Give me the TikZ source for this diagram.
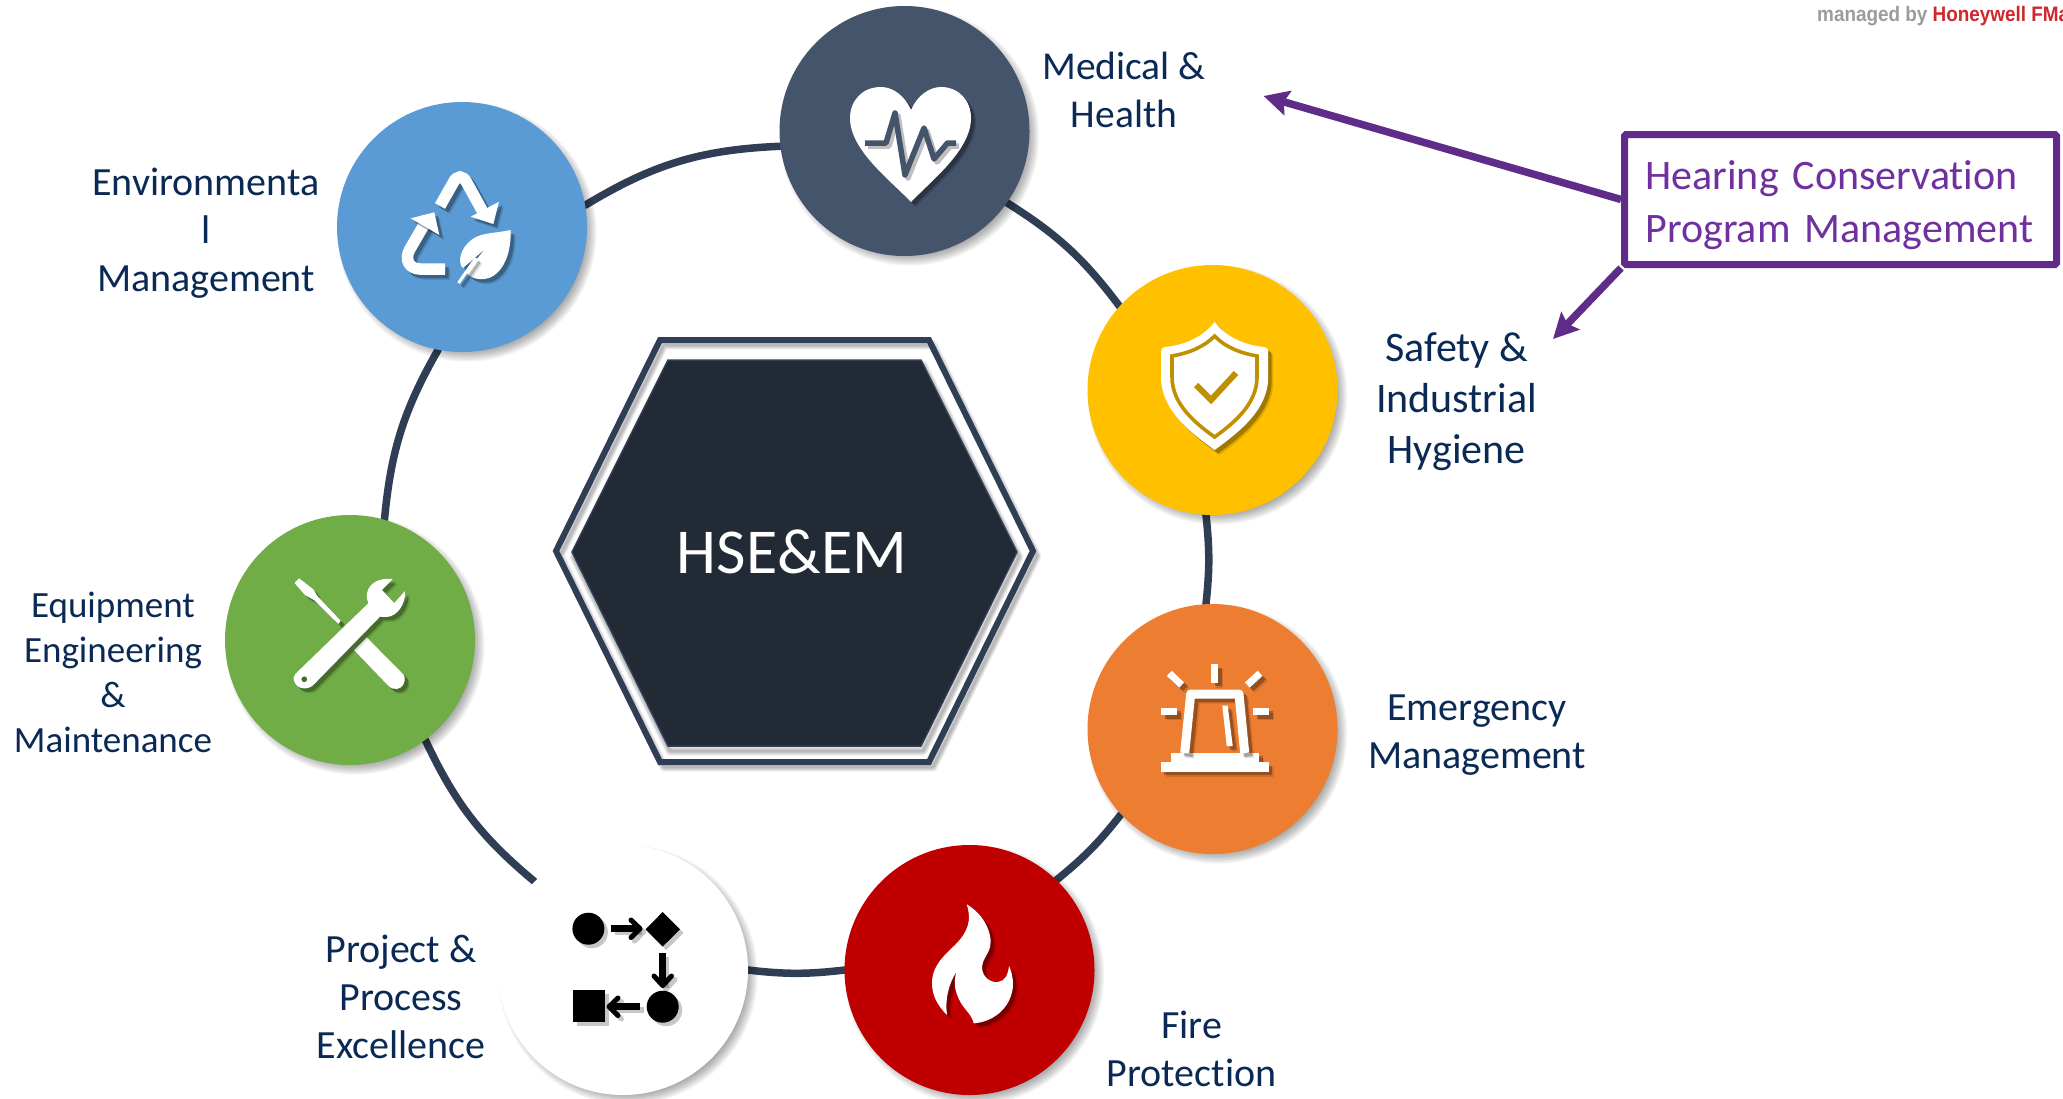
\documentclass[tikz,border=0pt]{standalone}
\usepackage{fontspec}
\setmainfont[Ligatures=NoCommon]{Carlito}
\newfontfamily\hwfont{Liberation Sans}
\usetikzlibrary{arrows.meta,calc}
\definecolor{ringc}{HTML}{2F3E55}
\definecolor{hexfill}{HTML}{222A35}
\definecolor{navy}{HTML}{0A2A55}
\definecolor{purpl}{HTML}{5F2C8A}
\definecolor{purtxt}{HTML}{7030A0}
\definecolor{cmed}{HTML}{44546A}
\definecolor{csaf}{HTML}{FFC000}
\definecolor{ceme}{HTML}{ED7D31}
\definecolor{cfir}{HTML}{C00000}
\definecolor{cequ}{HTML}{70AD47}
\definecolor{cenv}{HTML}{5B9BD5}
\definecolor{cgold}{HTML}{BF9000}
\definecolor{hwred}{HTML}{D0262D}
\definecolor{hwgray}{HTML}{9A9C9F}
\pgfdeclarelayer{bg}
\pgfsetlayers{bg,main}
\tikzset{
  hub/.style={circle,minimum size=250pt,inner sep=0pt,outer sep=0pt},
  ringline/.style={draw=ringc,line width=7.5pt,line cap=round},
  lbl/.style={text=navy,align=center,inner sep=0pt,anchor=base},
  parrow/.style={draw=purpl,line width=7.5pt,-{Stealth[length=25pt,width=25pt,inset=4pt]}},
}
% soft drop shadow of a circle of radius 125 (centre in px, y downwards)
\newcommand\softc[2]{%
  \foreach \k in {0,1,2,3,4,5,6,7}{%
    \fill[black,opacity=.05] ({#1+5},{-(#2)-5}) circle[radius={129.5-1.6*\k}];}}
\newcommand\softhex[1]{%
  \foreach \k in {0,1,2,3,4,5}{%
    \draw[black,opacity=.05,line width={9-1.4*\k},line join=round] #1;}}
\newcommand\iconfill[1]{%
  \fill[black,opacity=.28,shift={(3.5,3.5)},even odd rule] #1;
  \fill[black,opacity=.12,shift={(5,5)},even odd rule] #1;
  \fill[white,even odd rule] #1;}
\newcommand\iconline[2]{%
  \draw[black,opacity=.28,shift={(3.5,3.5)},#1] #2;
  \draw[black,opacity=.12,shift={(5,5)},#1] #2;
  \draw[white,#1] #2;}
\newcommand\procline[2]{%
  \draw[black,opacity=.22,shift={(3.5,3.5)},#1] #2;
  \draw[black,#1] #2;}
\newcommand\procfill[1]{%
  \fill[black,opacity=.22,shift={(3.5,3.5)}] #1;
  \fill[black] #1;}
\newcommand\noteline[1]{\raisebox{-16pt}[0pt][0pt]{#1}}
\begin{document}
\begin{tikzpicture}[x=1pt,y=1pt]
\useasboundingbox (0,0) rectangle (2063,-1098);
\begin{pgfonlayer}{bg}
\fill[white] (0,0) rectangle (2063,-1098);
\end{pgfonlayer}

% ---------- hexagon
\begin{scope}[yscale=-1]
  \begin{scope}[shift={(4,5)}]
    \softhex{(556,551) -- (660,340) -- (929,340) -- (1033,551) -- (929,762) -- (660,762) -- cycle}
  \end{scope}
  \draw[ringc,line width=6pt,line join=miter] (556,551) -- (660,340) -- (929,340) -- (1033,551) -- (929,762) -- (660,762) -- cycle;
  \begin{scope}[shift={(2,5)}]
    \softhex{(572,552) -- (668,360) -- (921,360) -- (1017,552) -- (921,746) -- (668,746) -- cycle}
  \end{scope}
  \filldraw[fill=hexfill,draw=ringc,line width=1.5pt] (572,552) -- (668,360) -- (921,360) -- (1017,552) -- (921,746) -- (668,746) -- cycle;
\end{scope}
\node[text=white,inner sep=0pt,anchor=base,font=\fontsize{64}{70}\selectfont] (core) at (792,-573) {HSE\&EM};

% ---------- hubs with shadows
\softc{462}{227}\softc{904.5}{131}\softc{1212.5}{390}\softc{1212.5}{729}\softc{969.5}{970}\softc{623}{970}\softc{350}{640}
\node[hub,fill=cenv] (env) at (462,-227) {};
\node[hub,fill=cmed] (med) at (904.5,-131) {};
\node[hub,fill=csaf] (saf) at (1212.5,-390) {};
\node[hub,fill=ceme] (eme) at (1212.5,-729) {};
\node[hub,fill=cfir] (fir) at (969.5,-970) {};
\node[hub,fill=white] (pro) at (623,-970) {};
\node[hub,fill=cequ] (equ) at (350,-640) {};

% ---------- ring connectors
\begin{pgfonlayer}{bg}
\draw[ringline] (env.10) to[bend left=14.3] (med.187);
\draw[ringline] (med.-35.6) to[bend left=10.5] (saf.138.6);
\draw[ringline] (saf.-93) to[bend left=6.2] (eme.93);
\draw[ringline] (eme.223) to[bend left=6.4] (fir.46.5);
\draw[ringline] (fir.180) to[bend left=6.7] (pro.0);
\draw[ringline] (pro.135) to[bend left=12.5] (equ.-53.7);
\draw[ringline] (equ.74) to[bend left=12.2] (env.259);
\end{pgfonlayer}

% ---------- icons
\begin{scope}[yscale=-1]
% heart
\iconfill{(911,110) .. controls (905,96) and (893,87) .. (881,87) .. controls (862,87) and (850,101) .. (850,118) .. controls (850,150) and (890,180) .. (911,202) .. controls (932,180) and (971,150) .. (971,118) .. controls (971,101) and (959,87) .. (941,87) .. controls (929,87) and (917,96) .. (911,110) -- cycle}
\draw[black,opacity=.25,line width=5.5pt,line join=round,shift={(3,3)}] (865,143) -- (886,143) -- (895,113) -- (905,175) -- (924,128) -- (934,159) -- (947.5,143) -- (956,143);
\draw[cmed,line width=5.5pt,line join=round] (865,143) -- (886,143) -- (895,113) -- (905,175) -- (924,128) -- (934,159) -- (947.5,143) -- (956,143);
% shield
\iconfill{(1214.6,322) .. controls (1203,337) and (1185,345) .. (1165,347) .. controls (1162,347) and (1161,349) .. (1161,352) -- (1161,377) .. controls (1161,410) and (1190,432) .. (1214.6,450) .. controls (1239,432) and (1268.2,410) .. (1268.2,377) -- (1268.2,352) .. controls (1268.2,349) and (1267,347) .. (1264,347) .. controls (1244,345) and (1226,337) .. (1214.6,322) -- cycle}
\draw[cgold,line width=3.6pt] (1214.6,336) .. controls (1204,347) and (1189,353) .. (1172,356) -- (1172,377) .. controls (1172,404) and (1195,423) .. (1214.6,437) .. controls (1234,423) and (1257,404) .. (1257,377) -- (1257,356) .. controls (1240,353) and (1225,347) .. (1214.6,336) -- cycle;
\draw[cgold,line width=6pt] (1196,385) -- (1211,400) -- (1236,373);
% recycle + leaf
\iconline{line width=11.5pt}{(440,206) -- (453,183) .. controls (457,175) and (463,175) .. (467,183) -- (483,212)}
\iconfill{(470.7,216.7) -- (499,201.7) -- (493.3,224) -- cycle}
\iconline{line width=11.5pt}{(445,269) -- (420,269) .. controls (409,269) and (404,259) .. (410,249) -- (428,218)}
\iconfill{(410.7,218.3) -- (434.3,212.3) -- (439.3,235) -- cycle}
\iconfill{(510.7,230) .. controls (492,234) and (478,232) .. (468,243) .. controls (458,253) and (459,265) .. (463,268) -- (485,249) -- (466,272) .. controls (472,281) and (488,282) .. (497,273) .. controls (508,263) and (511,245) .. (510.7,230) -- cycle}
\iconline{line width=3pt}{(476,258) -- (458.5,283)}
% screwdriver + wrench
\iconfill{(294.5,583) -- (299,578.3) -- (313.3,589.3) -- (317.3,596) -- (340.7,620.7) -- (338.3,624) -- (314,600) -- (305,595) -- cycle}
\iconfill{(366.7,637.3) -- (354,650) -- (388.5,686) .. controls (394,691) and (401,689) .. (403,685) .. controls (406,680) and (405,675) .. (402,673) -- cycle}
\iconfill{(392.7,579) -- (382,590) -- (394.3,603) -- (405,591) .. controls (406,604) and (397,617) .. (386,617) -- (380,616.7) -- (314.3,684) .. controls (308,691) and (298,689) .. (295,683) .. controls (293,679) and (293,676) .. (295.3,674) -- (368.3,603.3) .. controls (363,590) and (372,577) .. (392.7,579) -- cycle (304.3,679.3) circle[radius=3]}
% alarm
\iconfill{(1170.7,752.7) rectangle (1259,762.5)}
\iconfill{(1160.7,762.3) rectangle (1268.7,771.7)}
\iconline{line width=9pt,line join=round}{(1184.7,753) -- (1190.7,694) -- (1239,694) -- (1244.7,753)}
\iconfill{(1222.3,705.7) -- (1227.7,705.7) -- (1232.7,746) -- (1226.7,746) -- cycle}
\iconfill{(1211,664) rectangle (1218,682.7)}
\iconfill{(1161,707.7) rectangle (1177.3,715)}
\iconfill{(1253,707.7) rectangle (1269,715)}
\iconline{line width=7pt}{(1169.3,673.3) -- (1181.7,685)}
\iconline{line width=7pt}{(1260,673.3) -- (1247.3,685)}
% flame
\iconfill{(966.7,904.3) .. controls (985,915) and (993,935) .. (990,947) .. controls (988,955) and (982,960) .. (982,967) .. controls (982,978) and (992,983) .. (998,982) .. controls (1005,981) and (1008,975) .. (1009,966) .. controls (1013,975) and (1014,985) .. (1012,992) .. controls (1008,1010) and (992,1022) .. (973.7,1023.3) .. controls (972,1015) and (965,1010) .. (961,1003) .. controls (955,993) and (953,982) .. (956.5,971.7) .. controls (948,985) and (945,1000) .. (947,1015) .. controls (937,1005) and (932,995) .. (932,983) .. controls (932,965) and (945,955) .. (955,945) .. controls (968,932) and (972,920) .. (966.7,904.3) -- cycle}
% process
\procfill{(588.4,928.7) circle[radius=16]}
\procfill{(662.7,912) -- (680,929.3) -- (662.7,946.5) -- (645.5,929.3) -- cycle}
\procfill{(662.7,1006.7) circle[radius=16]}
\procfill{(573,990) rectangle (605,1022)}
\procline{line width=6.5pt}{(611,928.7) -- (638,928.7)}
\procline{line width=5pt,line cap=round,line join=round}{(631,920) -- (640,928.7) -- (631,937.5)}
\procline{line width=6.5pt}{(662.7,953) -- (662.7,984)}
\procline{line width=5pt,line cap=round,line join=round}{(654,976) -- (662.7,985.5) -- (671.5,976)}
\procline{line width=6.5pt}{(640.2,1006.7) -- (611,1006.7)}
\procline{line width=5pt,line cap=round,line join=round}{(618,998) -- (609,1006.7) -- (618,1015.5)}
\end{scope}

% ---------- labels (anchor: baseline of the last line)
\node[lbl,font=\fontsize{39.5}{48}\selectfont] (lmed) at (1124,-127) {Medical \&\\Health};
\node[lbl,font=\fontsize{42}{51}\selectfont] (lsaf) at (1456.5,-463.5) {Safety \&\\Industrial\\Hygiene};
\node[lbl,font=\fontsize{40}{47.5}\selectfont] (leme) at (1477,-768) {Emergency\\Management};
\node[lbl,font=\fontsize{40}{47.5}\selectfont] (lfir) at (1191.5,-1086) {Fire\\Protection};
\node[lbl,font=\fontsize{40}{48}\selectfont] (lpro) at (401,-1058.5) {Project \&\\Process\\Excellence};
\node[lbl,font=\fontsize{37}{45}\selectfont] (lequ) at (113,-752.6) {Equipment\\Engineering\\\&\\Maintenance};
\node[lbl,font=\fontsize{40}{48}\selectfont] (lenv) at (206,-291) {Environmenta\\l\\Management};

% ---------- note box
\node[draw=purpl,line width=7pt,rounded corners=1.5pt,text=purtxt,align=left,text width=390pt,inner xsep=21pt,inner ysep=0pt,minimum height=130pt,font=\fontsize{42}{53}\selectfont] (hcp) at (1840.5,-199.5) {\noteline{Hearing Conservation}\\\noteline{Program Management}};
\coordinate (tipa) at (1263.6,-96);
\coordinate (tipb) at (1553,-339);
\draw[parrow] (hcp.west) -- (tipa);
\draw[parrow] (hcp.south west) -- (tipb);

% ---------- corner text
\node[anchor=base west,inner sep=0pt,xscale=.9,font=\hwfont\bfseries\fontsize{21}{24}\selectfont] (mng) at (1817,-21) {\textcolor{hwgray}{managed by} \textcolor{hwred}{Honeywell FMa}};
\end{tikzpicture}
\end{document}
